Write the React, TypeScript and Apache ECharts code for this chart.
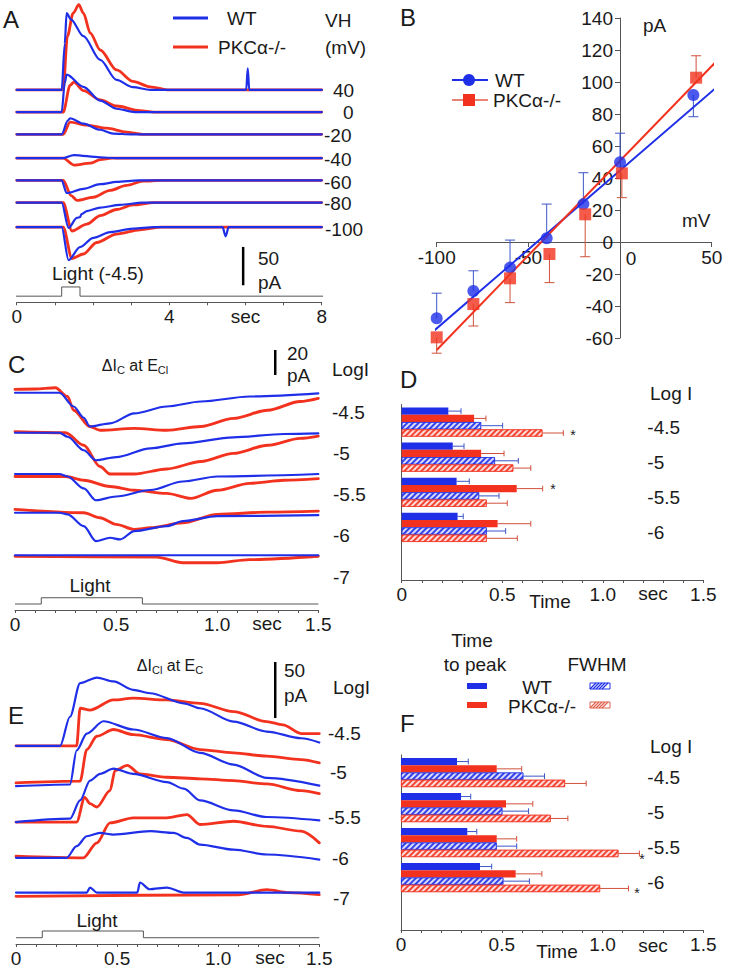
import React, { useEffect, useRef } from 'react';
import * as echarts from 'echarts';

const BLUE = '#1f2fe8';
const RED = '#f2321e';
const INK = '#1a1a1a';
const AXIS = '#555555';
const FONT = '"Liberation Sans", Arial, Helvetica, sans-serif';

// ---------------- Panel A: current traces at each holding potential (t s, pA from baseline)
const vhLabels = ['40', '0', '-20', '-40', '-60', '-80', '-100'];
const aWT: number[][][] = [
  [[0, 0], [1.18, 0], [1.26, 60], [1.31, 100], [1.42, 92], [1.75, 70], [2.19, 39], [2.62, 13], [3.05, 3.5], [3.5, 0], [6.02, 0], [6.06, 28], [6.1, 0], [8, 0]],
  [[0, 0], [1.18, 0], [1.26, 38], [1.31, 49], [1.75, 33], [2.19, 15], [2.62, 4.4], [3.1, 0], [8, 0]],
  [[0, 0], [1.18, 0], [1.34, 18], [1.4, 21], [1.75, 14], [2.19, 6], [2.53, 1], [3, 0], [8, 0]],
  [[0, 0], [1.22, 0], [1.5, 4], [2.19, 1], [2.6, 0], [8, 0]],
  [[0, 0], [1.18, 0], [1.31, -16.5], [1.75, -11], [2.19, -5], [2.62, -2], [3.2, 0], [8, 0]],
  [[0, 0], [1.18, 0], [1.36, -33], [1.58, -20], [1.66, -19], [1.7, -15], [1.84, -11], [2.19, -6.5], [2.71, -3], [3.3, 0], [8, 0]],
  [[0, 0], [1.18, 0], [1.36, -43], [1.66, -26], [2.01, -14], [2.45, -6.5], [3.05, -2], [3.6, 0], [5.4, 0], [5.48, -12], [5.56, 0], [8, 0]],
];
const aKO: number[][][] = [
  [[0, 0], [1.22, 0], [1.33, 70], [1.48, 100], [1.63, 111], [1.75, 100], [1.93, 74], [2.19, 52], [2.62, 26], [3.05, 11], [3.5, 4], [4, 0], [8, 0]],
  [[0, 0], [1.22, 0], [1.4, 35], [1.5, 39], [1.75, 28], [2.19, 16], [2.62, 8], [3.23, 2], [3.6, 0], [8, 0]],
  [[0, 0], [1.22, 0], [1.4, 16], [1.84, 12], [2.36, 8], [2.88, 3], [3.3, 0], [8, 0]],
  [[0, 0], [1.22, 0], [1.5, -9], [1.93, -6.5], [2.19, -2], [2.5, 0], [8, 0]],
  [[0, 0], [1.22, 0], [1.43, -20], [1.58, -26], [2.01, -22], [2.45, -13], [2.88, -6.5], [3.31, -1], [3.8, 0], [8, 0]],
  [[0, 0], [1.22, 0], [1.45, -37], [1.84, -28], [2.19, -17], [2.62, -9], [3.05, -3], [3.6, 0], [8, 0]],
  [[0, 0], [1.22, 0], [1.45, -41], [1.75, -35], [2.1, -20], [2.62, -9], [3.23, -3.5], [3.8, 0], [8, 0]],
];
const lightA = [[-0.05, 0], [1.18, 0], [1.18, 1], [1.66, 1], [1.66, 0], [8.17, 0]];
const scaleA = [5.94, 50]; // time position, pA

// ---------------- Panel B: I-V relation
const ivVoltWT = [-100, -80, -60, -40, -20, 0, 40];
const ivCurWT = [-47.7, -30.6, -16, 2.3, 23.7, 49.8, 91.9];
const ivErrWT = [-32, -18, 1.2, 23.7, 43.3, 68, 78.3];
const ivVoltKO = [-100, -80, -60, -38.5, -19, 1, 41.5];
const ivCurKO = [-59.6, -38.8, -22.7, -7.5, 17.3, 42.9, 102.7];
const ivErrKO = [-69.5, -52.5, -37.9, -25.4, -9.2, 27.7, 116.4];
const fitWT = [[-102, -56], [57, 101]];
const fitKO = [[-100, -67.5], [56, 117]];

// ---------------- Panels C & E: traces at each light intensity
const logILabels = ['-4.5', '-5', '-5.5', '-6', '-7'];
const cWT: number[][][] = [
  [[0, 0], [0.22, 0], [0.29, -11], [0.34, -20], [0.37, -27], [0.47, -24.5], [0.59, -16.5], [0.75, -11], [0.92, -7], [1.16, -3], [1.5, -0.5]],
  [[0, 0], [0.22, 0], [0.26, -3.2], [0.34, -14], [0.4, -22], [0.5, -19.5], [0.67, -12.5], [0.83, -8.5], [1.08, -3.7], [1.33, -1], [1.5, -0.5]],
  [[0, 0], [0.22, 0], [0.26, -2], [0.34, -11.5], [0.4, -21], [0.5, -18], [0.67, -12.8], [0.83, -6], [1.0, -2], [1.5, 0]],
  [[0, 0], [0.22, 0], [0.26, -1.3], [0.34, -10.7], [0.4, -22.7], [0.47, -20], [0.52, -21.3], [0.59, -14.7], [0.75, -10.7], [0.83, -6.7], [1.0, -2.7], [1.5, -1.9]],
  [[0, 0], [1.5, 0]],
];
const cKO: number[][][] = [
  [[0, 2.7], [0.1, 3], [0.2, 4], [0.26, -3], [0.29, -14], [0.37, -27], [0.42, -30], [0.59, -28.5], [0.75, -30], [0.92, -27], [1.08, -20.5], [1.25, -14], [1.41, -7], [1.5, -4.5]],
  [[0, 0.8], [0.25, 0], [0.34, -10], [0.42, -27], [0.47, -33], [0.59, -33], [0.75, -29], [0.92, -23], [1.08, -16.5], [1.25, -10], [1.41, -4.5], [1.5, -2.7]],
  [[0, -2], [0.25, -2], [0.34, -5], [0.47, -10], [0.59, -13], [0.75, -15.5], [0.87, -19.5], [1.0, -13], [1.16, -7.5], [1.33, -5], [1.5, -3.7]],
  [[0, 2.7], [0.34, 0], [0.42, -4], [0.5, -9.3], [0.59, -13.3], [0.67, -12], [0.83, -8], [1.0, -1.3], [1.25, 0.5], [1.5, 1.3]],
  [[0, -0.8], [0.7, -1.5], [0.83, -6], [1.0, -6], [1.16, -3.5], [1.5, -0.8]],
];
const eWT: number[][][] = [
  [[0, 0], [0.218, 0], [0.267, 26], [0.317, 56], [0.4, 61], [0.482, 57.5], [0.58, 50], [0.663, 47], [0.83, 38], [0.91, 33.6], [1.076, 21.7], [1.24, 12.8], [1.41, 6.8], [1.5, 3]],
  [[0, 0], [0.267, 1.5], [0.3, 32], [0.35, 47], [0.432, 58], [0.58, 50.6], [0.746, 43], [0.91, 29.8], [1.076, 19.3], [1.24, 7.4], [1.5, 0.5]],
  [[0, 0], [0.267, 3], [0.317, 19.3], [0.366, 37], [0.416, 43], [0.482, 47.6], [0.58, 43], [0.746, 35.7], [0.83, 29.8], [0.91, 19.3], [1.076, 10.4], [1.24, 4.5], [1.5, 1.5]],
  [[0, 0], [0.25, 0], [0.3, 10.4], [0.35, 19.3], [0.416, 22.3], [0.482, 20.8], [0.663, 23.8], [0.78, 22.3], [0.845, 17.8], [0.91, 11.9], [1.076, 7.4], [1.24, 3], [1.5, -1.5]],
  [[0, 0], [0.35, 0], [0.366, 4.5], [0.4, 0], [0.6, 0], [0.613, 9], [0.66, 3], [0.746, 4.5], [0.83, 0], [1.5, 0]],
];
const eKO: number[][][] = [
  [[0, 0], [0.3, 0], [0.317, 33.6], [0.366, 32], [0.482, 41], [0.58, 42.6], [0.746, 41], [0.91, 38], [1.076, 30.6], [1.24, 21.7], [1.32, 18.8], [1.41, 11], [1.5, 11]],
  [[0, 3], [0.317, 4.5], [0.35, 32.7], [0.4, 44.6], [0.482, 50.6], [0.58, 46], [0.746, 41.6], [0.91, 32.7], [1.076, 29.8], [1.24, 26.8], [1.41, 23.8], [1.5, 20.8]],
  [[0, 0], [0.3, 0], [0.34, 22], [0.366, 16.4], [0.4, 13.4], [0.465, 28], [0.49, 46], [0.55, 50.6], [0.613, 43], [0.746, 40], [0.91, 38.6], [1.076, 37], [1.24, 34], [1.41, 28], [1.5, 25.3]],
  [[0, 1.5], [0.333, 0], [0.4, 13.4], [0.465, 31.2], [0.58, 35.7], [0.746, 35.7], [0.845, 38.7], [0.91, 29.8], [1.076, 32.7], [1.24, 28.2], [1.41, 23.8], [1.5, 13.4]],
  [[0, -3.3], [1.1, -2], [1.24, 2.7], [1.35, 0], [1.5, -1.8]],
];
const lightCE = [[0, 0], [0.13, 0], [0.13, 1], [0.63, 1], [0.63, 0], [1.5, 0]];
const scaleC = [1.287, 20];
const scaleE = [1.282, 50];

// ---------------- Panels D & F: time to peak and FWHM (s), mean and error end
const barGroups = ['-4.5', '-5', '-5.5', '-6'];
const dTtpWT = [0.232, 0.254, 0.273, 0.278];
const dTtpWTErr = [0.295, 0.31, 0.336, 0.306];
const dTtpKO = [0.36, 0.395, 0.572, 0.477];
const dTtpKOErr = [0.419, 0.509, 0.701, 0.642];
const dFwWT = [0.395, 0.464, 0.385, 0.423];
const dFwWTErr = [0.502, 0.58, 0.484, 0.517];
const dFwKO = [0.7, 0.555, 0.423, 0.423];
const dFwKOErr = [0.804, 0.642, 0.525, 0.575];

const fTtpWT = [0.278, 0.298, 0.329, 0.392];
const fTtpWTErr = [0.334, 0.346, 0.376, 0.45];
const fTtpKO = [0.475, 0.521, 0.475, 0.569];
const fTtpKOErr = [0.599, 0.654, 0.574, 0.699];
const fFwWT = [0.607, 0.503, 0.475, 0.508];
const fFwWTErr = [0.712, 0.633, 0.574, 0.637];
const fFwKO = [0.814, 0.743, 1.079, 0.988];
const fFwKOErr = [0.919, 0.828, 1.183, 1.129];

// ---------------- layout constants (display offsets, not data)
const OFF_A = [-23, -52, -81, -112, -141, -170, -202];
const LIGHT_A = [-292, -280];
const SCALE_A_BASE = -277.8;
const OFF_C = [-11, -43, -76, -107, -141];
const LIGHT_C = [-180, -175];
const SCALE_C_BASE = 3.2;
const OFF_E = [-74, -110, -142, -174, -205];
const LIGHT_E = [-245.3, -239.3];
const SCALE_E_BASE = -49.1;
const BAR_W = 7.3;

function txt(x: number, y: number, text: string, size = 19, align = 'left', extra: any = {}) {
  return {
    type: 'text', x, y, z: 100, silent: true,
    style: {
      text, fontSize: size, fontFamily: FONT, fill: INK,
      align, verticalAlign: 'middle', textAlign: align, textVerticalAlign: 'middle', ...extra,
    },
  };
}
function gline(x1: number, y1: number, x2: number, y2: number, stroke: string, w = 1) {
  return { type: 'line', z: 100, silent: true, shape: { x1, y1, x2, y2 }, style: { stroke, lineWidth: w } };
}

function traceSeries(pts: number[][], offset: number, color: string, width: number, axis: number[], z: number) {
  return {
    type: 'line', xAxisIndex: axis[0], yAxisIndex: axis[1], z,
    data: pts.map((p) => [p[0], p[1] + offset]),
    showSymbol: false, symbol: 'none', smooth: 0.3, smoothMonotone: 'x', silent: true,
    lineStyle: { color, width, cap: 'round', join: 'round' },
  };
}
function lightSeries(pts: number[][], levels: number[], axis: number[]) {
  return {
    type: 'line', xAxisIndex: axis[0], yAxisIndex: axis[1], clip: false, silent: true,
    data: pts.map((p) => [p[0], levels[0] + p[1] * (levels[1] - levels[0])]),
    showSymbol: false, symbol: 'none', lineStyle: { color: AXIS, width: 1 },
  };
}
function scaleSeries(sc: number[], base: number, axis: number[]) {
  return {
    type: 'line', xAxisIndex: axis[0], yAxisIndex: axis[1], clip: false, silent: true,
    data: [[sc[0], base], [sc[0], base + sc[1]]],
    showSymbol: false, symbol: 'none', lineStyle: { color: '#000', width: 2.5 },
  };
}
function tracesAxis(gridIndex: number, max: number, interval: number, fmt: (v: number) => string) {
  return {
    type: 'value', gridIndex, min: 0, max, interval,
    axisLine: { show: true, onZero: false, lineStyle: { color: AXIS, width: 1 } },
    axisTick: { show: true, length: 3, lineStyle: { color: AXIS } },
    splitLine: { show: false },
    axisLabel: { show: true, formatter: fmt, fontSize: 19, color: INK, fontFamily: FONT, margin: 5, interval: 0, hideOverlap: false, showMinLabel: true, showMaxLabel: true },
  };
}
const fmtSec = (v: number) => {
  const r = Math.round(v * 10);
  if (r === 0) return '0';
  if (r === 5) return '0.5';
  if (r === 10) return '1.0';
  if (r === 15) return '1.5';
  return '';
};
const fmtA = (v: number) => {
  const r = Math.round(v);
  if (r === 0) return '0';
  if (r === 4) return '4';
  if (r === 6) return 'sec';
  if (r === 8) return '8';
  return '';
};

function hatchDecal() {
  return {
    symbol: 'rect', symbolSize: 1, color: 'rgba(255,255,255,0.9)',
    dashArrayX: [1, 0], dashArrayY: [1.6, 1.6], rotation: -Math.PI / 4,
  };
}
function barSeries(vals: number[], color: string, hatched: boolean, xi: number, yi: number) {
  return {
    type: 'bar', xAxisIndex: xi, yAxisIndex: yi, barWidth: BAR_W, barGap: '0%', silent: true,
    data: vals,
    itemStyle: hatched
      ? { color, borderColor: color, borderWidth: 0.8, decal: hatchDecal(), opacity: 0.9 }
      : { color },
    z: 2,
  };
}
function barErrSeries(vals: number[], errs: number[], k: number, color: string, xi: number, yi: number) {
  return {
    type: 'custom', xAxisIndex: xi, yAxisIndex: yi, silent: true, z: 1,
    encode: { x: 0, y: 1 },
    data: vals.map((v, i) => [v, i, errs[i]]),
    renderItem: (_p: any, api: any) => {
      const c0 = api.coord([api.value(0), api.value(1)]);
      const c1 = api.coord([api.value(2), api.value(1)]);
      const y = c0[1] + (k - 1.5) * BAR_W;
      return {
        type: 'group',
        children: [
          { type: 'line', shape: { x1: c0[0], y1: y, x2: c1[0], y2: y }, style: { stroke: color, lineWidth: 1 } },
          { type: 'line', shape: { x1: c1[0], y1: y - BAR_W / 2 + 0.8, x2: c1[0], y2: y + BAR_W / 2 - 0.8 }, style: { stroke: color, lineWidth: 1 } },
        ],
      };
    },
  };
}
function ivErrSeries(xs: number[], ys: number[], es: number[], color: string) {
  return {
    type: 'custom', xAxisIndex: 1, yAxisIndex: 1, silent: true, z: 1, clip: false,
    encode: { x: 0, y: 1 },
    data: xs.map((x, i) => [x, ys[i], es[i]]),
    renderItem: (_p: any, api: any) => {
      const a = api.coord([api.value(0), api.value(1)]);
      const b = api.coord([api.value(0), api.value(2)]);
      return {
        type: 'group',
        children: [
          { type: 'line', shape: { x1: a[0], y1: a[1], x2: b[0], y2: b[1] }, style: { stroke: color, lineWidth: 1 } },
          { type: 'line', shape: { x1: b[0] - 5, y1: b[1], x2: b[0] + 5, y2: b[1] }, style: { stroke: color, lineWidth: 1 } },
        ],
      };
    },
  };
}
function barValueAxis(gridIndex: number) {
  return {
    type: 'value', gridIndex, min: 0, max: 1.5, interval: 0.1,
    axisLine: { show: true, onZero: false, lineStyle: { color: AXIS } },
    axisTick: { show: true, length: 3, lineStyle: { color: AXIS } },
    splitLine: { show: false },
    axisLabel: { formatter: fmtSec, fontSize: 19, color: INK, fontFamily: FONT, margin: 5, interval: 0, hideOverlap: false },
  };
}
function barCatAxis(gridIndex: number) {
  return {
    type: 'category', gridIndex, inverse: true, data: [...barGroups, ''],
    axisLine: { show: true, onZero: false, lineStyle: { color: AXIS } },
    axisTick: { show: false }, axisLabel: { show: false }, splitLine: { show: false },
  };
}
function barLabelAxis(gridIndex: number) {
  return {
    type: 'category', gridIndex, inverse: true, position: 'right', offset: -56, data: [...barGroups, ''],
    axisLine: { show: false, onZero: false }, axisTick: { show: false }, splitLine: { show: false },
    axisLabel: { show: true, margin: 0, fontSize: 19, color: INK, fontFamily: FONT, align: 'left', verticalAlign: 'top', lineHeight: 10, interval: 0 },
  };
}

function hatchSwatch(x: number, y: number, color: string) {
  const els: any[] = [{ type: 'rect', z: 100, shape: { x, y, width: 20, height: 6 }, style: { fill: '#fff', stroke: color, lineWidth: 1 } }];
  for (let k = 0; k <= 14; k += 3) els.push(gline(x + k, y + 6, x + k + 6, y, color, 1.2));
  return els;
}

function buildOption() {
  const series: any[] = [];
  // Panel A traces
  aKO.forEach((p, i) => series.push(traceSeries(p, OFF_A[i], RED, 2.8, [0, 0], 3)));
  aWT.forEach((p, i) => series.push(traceSeries(p, OFF_A[i], BLUE, 2.2, [0, 0], 4)));
  series.push(lightSeries(lightA, LIGHT_A, [0, 0]));
  series.push(scaleSeries(scaleA, SCALE_A_BASE, [0, 0]));
  // Panel B
  series.push(ivErrSeries(ivVoltWT, ivCurWT, ivErrWT, '#3d55c8'));
  series.push(ivErrSeries(ivVoltKO, ivCurKO, ivErrKO, '#d0503c'));
  series.push({ type: 'line', xAxisIndex: 1, yAxisIndex: 1, data: fitWT, clip: false, showSymbol: false, symbol: 'none', silent: true, lineStyle: { color: BLUE, width: 2 }, z: 2 });
  series.push({ type: 'line', xAxisIndex: 1, yAxisIndex: 1, data: fitKO, clip: false, showSymbol: false, symbol: 'none', silent: true, lineStyle: { color: RED, width: 2 }, z: 2 });
  series.push({ type: 'scatter', xAxisIndex: 1, yAxisIndex: 1, data: ivVoltWT.map((x, i) => [x, ivCurWT[i]]), symbol: 'circle', symbolSize: 12, itemStyle: { color: BLUE }, z: 5, silent: true });
  series.push({ type: 'scatter', xAxisIndex: 1, yAxisIndex: 1, data: ivVoltKO.map((x, i) => [x, ivCurKO[i]]), symbol: 'rect', symbolSize: 12, itemStyle: { color: RED }, z: 6, silent: true });
  // Panel C
  cKO.forEach((p, i) => series.push(traceSeries(p, OFF_C[i], RED, 2.8, [2, 2], 3)));
  cWT.forEach((p, i) => series.push(traceSeries(p, OFF_C[i], BLUE, 2.2, [2, 2], 4)));
  series.push(lightSeries(lightCE, LIGHT_C, [2, 2]));
  series.push(scaleSeries(scaleC, SCALE_C_BASE, [2, 2]));
  // Panel D
  series.push(barSeries(dTtpWT, BLUE, false, 3, 3));
  series.push(barSeries(dTtpKO, RED, false, 3, 3));
  series.push(barSeries(dFwWT, BLUE, true, 3, 3));
  series.push(barSeries(dFwKO, RED, true, 3, 3));
  series.push(barErrSeries(dTtpWT, dTtpWTErr, 0, '#3d55c8', 3, 3));
  series.push(barErrSeries(dTtpKO, dTtpKOErr, 1, '#d0503c', 3, 3));
  series.push(barErrSeries(dFwWT, dFwWTErr, 2, '#3d55c8', 3, 3));
  series.push(barErrSeries(dFwKO, dFwKOErr, 3, '#d0503c', 3, 3));
  // Panel E
  eKO.forEach((p, i) => series.push(traceSeries(p, OFF_E[i], RED, 2.8, [4, 5], 3)));
  eWT.forEach((p, i) => series.push(traceSeries(p, OFF_E[i], BLUE, 2.2, [4, 5], 4)));
  series.push(lightSeries(lightCE, LIGHT_E, [4, 5]));
  series.push(scaleSeries(scaleE, SCALE_E_BASE, [4, 5]));
  // Panel F
  series.push(barSeries(fTtpWT, BLUE, false, 5, 6));
  series.push(barSeries(fTtpKO, RED, false, 5, 6));
  series.push(barSeries(fFwWT, BLUE, true, 5, 6));
  series.push(barSeries(fFwKO, RED, true, 5, 6));
  series.push(barErrSeries(fTtpWT, fTtpWTErr, 0, '#3d55c8', 5, 6));
  series.push(barErrSeries(fTtpKO, fTtpKOErr, 1, '#d0503c', 5, 6));
  series.push(barErrSeries(fFwWT, fFwWTErr, 2, '#3d55c8', 5, 6));
  series.push(barErrSeries(fFwKO, fFwKOErr, 3, '#d0503c', 5, 6));

  const aRightPos = [[333, 90], [343, 112], [324, 135], [324, 159], [324, 182], [324, 203], [325, 229]];
  const cRightPos = [[332, 412], [333, 453], [333, 494], [333, 535], [333, 577]];
  const eRightPos = [[328, 733], [330, 772], [328, 817], [332, 858], [333, 898]];

  const sub = (main: string, s1: string, mid: string, s2: string) => ({
    text: `{a|${main}}{s|${s1}}{a|${mid}}{s|${s2}}`,
    rich: {
      a: { fontSize: 16, fontFamily: FONT, fill: INK, color: INK, lineHeight: 20, verticalAlign: 'middle' },
      s: { fontSize: 11, fontFamily: FONT, fill: INK, color: INK, lineHeight: 20, verticalAlign: 'bottom' },
    },
  });

  const graphic: any[] = [
    // Panel A
    txt(3, 19, 'A', 24),
    gline(173, 18, 208, 18, BLUE, 3),
    txt(227, 18, 'WT', 19),
    gline(173, 47, 208, 47, RED, 3),
    txt(218, 47, 'PKCα-/-', 19),
    txt(325, 20, 'VH', 19),
    txt(325, 47, '(mV)', 19),
    ...vhLabels.map((l, i) => txt(aRightPos[i][0], aRightPos[i][1], l, 19)),
    txt(258, 258, '50', 19),
    txt(258, 282, 'pA', 19),
    txt(98, 273, 'Light (-4.5)', 19, 'center'),
    // Panel B
    txt(400, 17, 'B', 24),
    txt(643, 25, 'pA', 19),
    txt(682, 220, 'mV', 19),
    txt(631, 258, '0', 19, 'center'),
    gline(452, 80, 488, 80, BLUE, 2),
    { type: 'circle', z: 100, shape: { cx: 469, cy: 80, r: 6 }, style: { fill: BLUE } },
    txt(495, 80, 'WT', 19),
    gline(452, 100, 488, 100, '#e25a48', 1.5),
    { type: 'rect', z: 100, shape: { x: 463, y: 94, width: 12, height: 12 }, style: { fill: RED } },
    txt(493, 100, 'PKCα-/-', 19),
    // Panel C
    txt(8, 364, 'C', 24),
    { type: 'text', x: 135, y: 365, z: 100, style: { ...sub('ΔI', 'C', ' at E', 'Cl'), align: 'center', verticalAlign: 'middle', textAlign: 'center', textVerticalAlign: 'middle' } },
    txt(287, 353, '20', 19),
    txt(287, 375, 'pA', 19),
    txt(332, 369, 'LogI', 19),
    ...logILabels.map((l, i) => txt(cRightPos[i][0], cRightPos[i][1], l, 19)),
    txt(90, 585, 'Light', 19, 'center'),
    txt(267, 623, 'sec', 19, 'center'),
    // Panel D
    txt(400, 379, 'D', 24),
    txt(650, 393, 'Log I', 19),
    txt(573, 435, '*', 14, 'center'),
    txt(553, 489, '*', 14, 'center'),
    txt(550, 601, 'Time', 19, 'center'),
    txt(653, 593, 'sec', 19, 'center'),
    // Panel E
    txt(8, 715, 'E', 24),
    { type: 'text', x: 170, y: 665, z: 100, style: { ...sub('ΔI', 'Cl', ' at E', 'C'), align: 'center', verticalAlign: 'middle', textAlign: 'center', textVerticalAlign: 'middle' } },
    txt(284, 670, '50', 19),
    txt(284, 695, 'pA', 19),
    txt(333, 687, 'LogI', 19),
    ...logILabels.map((l, i) => txt(eRightPos[i][0], eRightPos[i][1], l, 19)),
    txt(97, 920, 'Light', 19, 'center'),
    txt(270, 957, 'sec', 19, 'center'),
    // Panel F legend
    txt(472, 640, 'Time', 19, 'center'),
    txt(475, 664, 'to peak', 19, 'center'),
    txt(597, 664, 'FWHM', 19, 'center'),
    { type: 'rect', z: 100, shape: { x: 467, y: 683, width: 20, height: 6 }, style: { fill: BLUE } },
    txt(537, 687, 'WT', 19, 'center'),
    ...hatchSwatch(590, 683, BLUE),
    { type: 'rect', z: 100, shape: { x: 467, y: 702, width: 20, height: 6 }, style: { fill: RED } },
    txt(542, 706, 'PKCα-/-', 19, 'center'),
    ...hatchSwatch(590, 702, '#e0604c'),
    // Panel F
    txt(400, 723, 'F', 24),
    txt(650, 746, 'Log I', 19),
    txt(642, 859, '*', 14, 'center'),
    txt(637, 893, '*', 14, 'center'),
    txt(557, 951, 'Time', 19, 'center'),
    txt(653, 945, 'sec', 19, 'center'),
  ];

  return {
    animation: false,
    backgroundColor: '#ffffff',
    textStyle: { fontFamily: FONT },
    grid: [
      { left: 16.7, top: 2, width: 305, height: 300.3 }, // A
      { left: 436.7, top: 18, width: 275, height: 320 }, // B
      { left: 15, top: 342, width: 303.3, height: 268 }, // C
      { left: 401.7, top: 404.5, width: 301.6, height: 175.5 }, // D
      { left: 16, top: 650, width: 303.3, height: 294 }, // E
      { left: 401, top: 755, width: 302.3, height: 175 }, // F
    ],
    xAxis: [
      tracesAxis(0, 8, 1, fmtA),
      {
        type: 'value', gridIndex: 1, min: -100, max: 50, interval: 50,
        position: 'bottom', offset: -96,
        axisLine: { show: true, onZero: false, lineStyle: { color: AXIS } },
        axisTick: { show: true, length: 5, lineStyle: { color: AXIS } },
        splitLine: { show: false },
        axisLabel: { fontSize: 19, color: INK, fontFamily: FONT, margin: 6, formatter: (v: number) => (v === 0 ? '' : String(v)) },
      },
      tracesAxis(2, 1.5, 0.1, fmtSec),
      barValueAxis(3),
      tracesAxis(4, 1.5, 0.1, fmtSec),
      barValueAxis(5),
    ],
    yAxis: [
      { type: 'value', gridIndex: 0, min: -300, max: 91.6, show: false },
      {
        type: 'value', gridIndex: 1, min: -60, max: 140, interval: 20,
        position: 'left', offset: -183.3,
        axisLine: { show: true, onZero: false, lineStyle: { color: AXIS } },
        axisTick: { show: true, length: 5, lineStyle: { color: AXIS } },
        splitLine: { show: false },
        axisLabel: { fontSize: 19, color: INK, fontFamily: FONT, margin: 7 },
      },
      { type: 'value', gridIndex: 2, min: -184.8, max: 29.6, show: false },
      barCatAxis(3),
      barLabelAxis(3),
      { type: 'value', gridIndex: 4, min: -250.9, max: 11.6, show: false },
      barCatAxis(5),
      barLabelAxis(5),
    ],
    series,
    graphic,
  };
}

export default function App() {
  const ref = useRef<HTMLDivElement>(null);
  useEffect(() => {
    document.body.style.margin = '0';
    if (!ref.current) return;
    const chart = echarts.init(ref.current, undefined, { renderer: 'svg' });
    chart.setOption(buildOption() as any);
    return () => chart.dispose();
  }, []);
  return <div ref={ref} style={{ width: 730, height: 968, background: '#fff' }} />;
}
